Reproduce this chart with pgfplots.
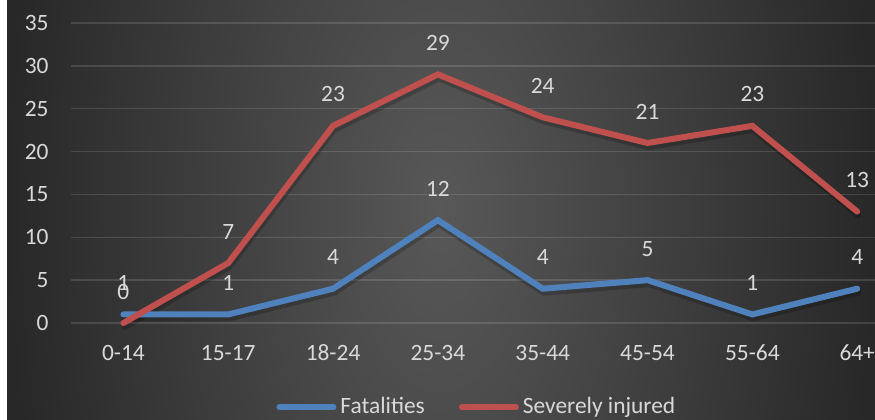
\documentclass[border=0pt]{standalone}
\usepackage{fontspec}
\setmainfont{Carlito}
\usepackage{pgfplots}
\pgfplotsset{compat=1.18}
\usepackage{pgfplotstable}

\definecolor{bgin}{HTML}{585858}
\definecolor{bgout}{HTML}{282828}
\definecolor{txt}{HTML}{D9D9D9}
\definecolor{fatal}{HTML}{4F81BD}
\definecolor{injur}{HTML}{C0504D}
\newcommand\fs{\fontsize{11.7pt}{14pt}\selectfont}

% age group index, fatalities, severely injured
\pgfplotstableread{
x fat inj
0 1 0
1 1 7
2 4 23
3 12 29
4 4 24
5 5 21
6 1 23
7 4 13
}\accdata

\begin{document}
\begin{tikzpicture}
% background: wide, flat radial gradient
\begin{scope}
  \clip (3.5pt,0pt) rectangle (437.5pt,209.5pt);
  \shade[inner color=bgin, outer color=bgout] (3.5pt,-314.25pt) rectangle (437.5pt,523.75pt);
\end{scope}
\begin{axis}[
  at={(35.5pt,48pt)}, anchor=south west,
  scale only axis, width=402pt, height=150pt,
  xmin=-0.5, xmax=7.17, ymin=0, ymax=35,
  xtick={0,...,7},
  xticklabels={0-14,15-17,18-24,25-34,35-44,45-54,55-64,64+},
  ytick={0,5,...,35},
  axis line style={draw=none},
  major tick length=0pt,
  ymajorgrids,
  grid style={white, opacity=0.13, line width=0.75pt},
  clip=false,
  /pgf/number format/assume math mode=true,
  tick label style={font=\fs, text=txt},
  yticklabel style={anchor=east, inner sep=0pt, xshift=-11pt},
  xticklabel style={anchor=center, inner sep=0pt, yshift=-15pt},
  legend style={at={(0.506,-0.281)}, anchor=center, draw=none, fill=none,
    font=\fs, text=txt, legend columns=2,
    /tikz/every even column/.style={column sep=15pt}},
  legend cell align=left,
  legend image code/.code={\draw[line width=3pt, line cap=round] (0pt,0pt) -- (27pt,0pt);},
  every node near coord/.append style={font=\fs, text=txt, anchor=center, yshift=15.75pt},
]
% soft shadows under the lines
\addplot[black, opacity=0.2, line width=3pt, line cap=round, yshift=-2pt, xshift=0.5pt, forget plot]
  table[x=x, y=fat] {\accdata};
\addplot[black, opacity=0.2, line width=3pt, line cap=round, yshift=-2pt, xshift=0.5pt, forget plot]
  table[x=x, y=inj] {\accdata};
% series
\addplot[fatal, line width=3pt, line cap=round, mark=none, nodes near coords]
  table[x=x, y=fat] {\accdata};
\addlegendentry{Fatalities}
\addplot[injur, line width=3pt, line cap=round, mark=none, nodes near coords]
  table[x=x, y=inj] {\accdata};
\addlegendentry{Severely injured}
\end{axis}
\pgfresetboundingbox
\path (0pt,0pt) rectangle (437.5pt,209.5pt);
\end{tikzpicture}
\end{document}
